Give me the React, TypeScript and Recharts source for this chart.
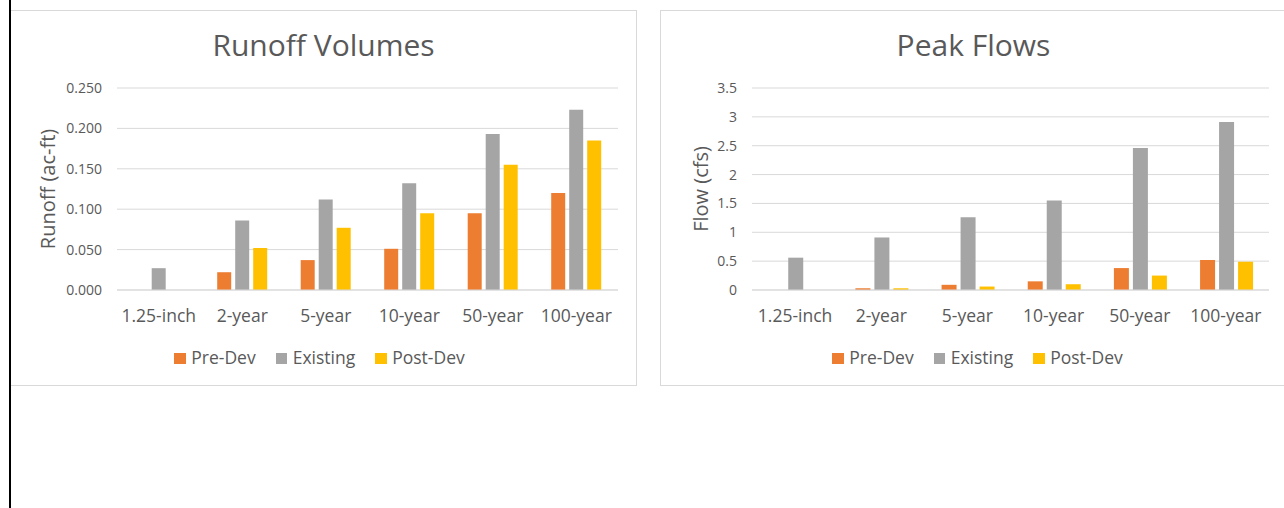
import React from 'react';
import { BarChart, Bar, XAxis, YAxis, CartesianGrid, Legend } from 'recharts';

const storms = ['1.25-inch', '2-year', '5-year', '10-year', '50-year', '100-year'];

const runoffPreDev = [0, 0.022, 0.037, 0.051, 0.095, 0.12];
const runoffExisting = [0.027, 0.086, 0.112, 0.132, 0.193, 0.223];
const runoffPostDev = [0, 0.052, 0.077, 0.095, 0.155, 0.185];
const runoffTicks = [0, 0.05, 0.1, 0.15, 0.2, 0.25];

const flowPreDev = [0, 0.03, 0.09, 0.15, 0.38, 0.52];
const flowExisting = [0.56, 0.91, 1.26, 1.55, 2.46, 2.91];
const flowPostDev = [0, 0.03, 0.06, 0.1, 0.25, 0.49];
const flowTicks = [0, 0.5, 1, 1.5, 2, 2.5, 3, 3.5];

const series = [
  { key: 'preDev', name: 'Pre-Dev', color: '#ED7D31' },
  { key: 'existing', name: 'Existing', color: '#A5A5A5' },
  { key: 'postDev', name: 'Post-Dev', color: '#FFC000' },
];

const TEXT = '#595959';
const GRID = '#D9D9D9';
const FONT = '"Open Sans", "Noto Sans", sans-serif';

const buildRows = (pre: number[], ex: number[], post: number[]) =>
  storms.map((storm, i) => ({ storm, preDev: pre[i], existing: ex[i], postDev: post[i] }));

const AxisTitle = (props: any) => {
  const { viewBox, value, dx } = props;
  const cx = viewBox.x + dx;
  const cy = viewBox.y + viewBox.height / 2;
  return (
    <text
      x={cx}
      y={cy}
      transform={`rotate(-90 ${cx} ${cy})`}
      textAnchor="middle"
      dominantBaseline="central"
      fill={TEXT}
      fontSize={20}
      fontFamily={FONT}
    >
      {value}
    </text>
  );
};

const LegendRow = (props: any) => {
  const { payload, shift } = props;
  // keep the series order (Pre-Dev, Existing, Post-Dev)
  const items = [...(payload || [])].sort(
    (a: any, b: any) =>
      series.findIndex((s) => s.name === a.value) - series.findIndex((s) => s.name === b.value)
  );
  return (
    <div
      style={{
        display: 'flex',
        justifyContent: 'center',
        gap: 20,
        transform: `translateX(${shift}px)`,
        fontSize: 17.5,
        lineHeight: '18px',
        color: TEXT,
        fontFamily: FONT,
      }}
    >
      {items.map((p: any) => (
        <div key={p.value} style={{ display: 'flex', alignItems: 'center' }}>
          <div style={{ width: 11.5, height: 11.5, background: p.color, marginRight: 5.5, marginTop: 3 }} />
          <span>{p.value}</span>
        </div>
      ))}
    </div>
  );
};

type PanelProps = {
  left: number;
  title: string;
  yLabel: string;
  rows: any[];
  ticks: number[];
  digits: number;
  axisWidth: number;
  plotWidth: number;
  labelX: number;
  legendShift: number;
};

const W = 627;
const H = 376;

const Panel = ({ left, title, yLabel, rows, ticks, digits, axisWidth, plotWidth, labelX, legendShift }: PanelProps) => (
  <div
    style={{
      position: 'absolute',
      left,
      top: 10,
      width: W,
      height: H,
      boxShadow: `inset 0 0 0 1px ${GRID}`,
      background: '#fff',
    }}
  >
    <div
      style={{
        position: 'absolute',
        top: 20,
        left: 0,
        width: W,
        textAlign: 'center',
        fontSize: 30,
        lineHeight: '30px',
        color: TEXT,
        fontFamily: FONT,
      }}
    >
      {title}
    </div>
    <div style={{ position: 'absolute', left: 0, top: 0 }}>
      <BarChart
        width={W}
        height={H}
        data={rows}
        margin={{ top: 78, right: W - axisWidth - plotWidth, bottom: 66, left: 0 }}
        barCategoryGap="20%"
        barGap={4}
      >
        <CartesianGrid horizontal vertical={false} stroke={GRID} />
        <XAxis
          dataKey="storm"
          tickLine={false}
          axisLine={{ stroke: GRID }}
          tickSize={0}
          tickMargin={20}
          tick={{ fill: TEXT, fontSize: 17.5, fontFamily: FONT }}
          interval={0}
        />
        <YAxis
          width={axisWidth}
          domain={[ticks[0], ticks[ticks.length - 1]]}
          ticks={ticks}
          interval={0}
          tickLine={false}
          axisLine={false}
          tickSize={0}
          tickMargin={15}
          tick={{ fill: TEXT, fontSize: 14, fontFamily: FONT }}
          tickFormatter={(v: number) => (digits > 0 ? v.toFixed(digits) : String(v))}
          label={{ value: yLabel, content: (p: any) => <AxisTitle {...p} value={yLabel} dx={labelX} /> }}
        />
        <Legend
          layout="horizontal"
          verticalAlign="middle"
          align="center"
          wrapperStyle={{ top: 338, left: 0, width: W }}
          content={(p: any) => <LegendRow {...p} shift={legendShift} />}
        />
        {series.map((s) => (
          <Bar key={s.key} dataKey={s.key} name={s.name} fill={s.color} isAnimationActive={false} />
        ))}
      </BarChart>
    </div>
  </div>
);

export default function App() {
  return (
    <div
      style={{
        position: 'absolute',
        left: 0,
        top: 0,
        width: 1284,
        height: 508,
        overflow: 'hidden',
        background: '#fff',
        fontFamily: FONT,
      }}
    >
      <Panel
        left={10}
        title="Runoff Volumes"
        yLabel="Runoff (ac-ft)"
        rows={buildRows(runoffPreDev, runoffExisting, runoffPostDev)}
        ticks={runoffTicks}
        digits={3}
        axisWidth={107}
        plotWidth={501}
        labelX={37}
        legendShift={-4}
      />
      <Panel
        left={660}
        title="Peak Flows"
        yLabel="Flow (cfs)"
        rows={buildRows(flowPreDev, flowExisting, flowPostDev)}
        ticks={flowTicks}
        digits={0}
        axisWidth={92}
        plotWidth={517}
        labelX={40}
        legendShift={4}
      />
      <div style={{ position: 'absolute', left: 9, top: 0, width: 2, height: 508, background: '#000' }} />
    </div>
  );
}
